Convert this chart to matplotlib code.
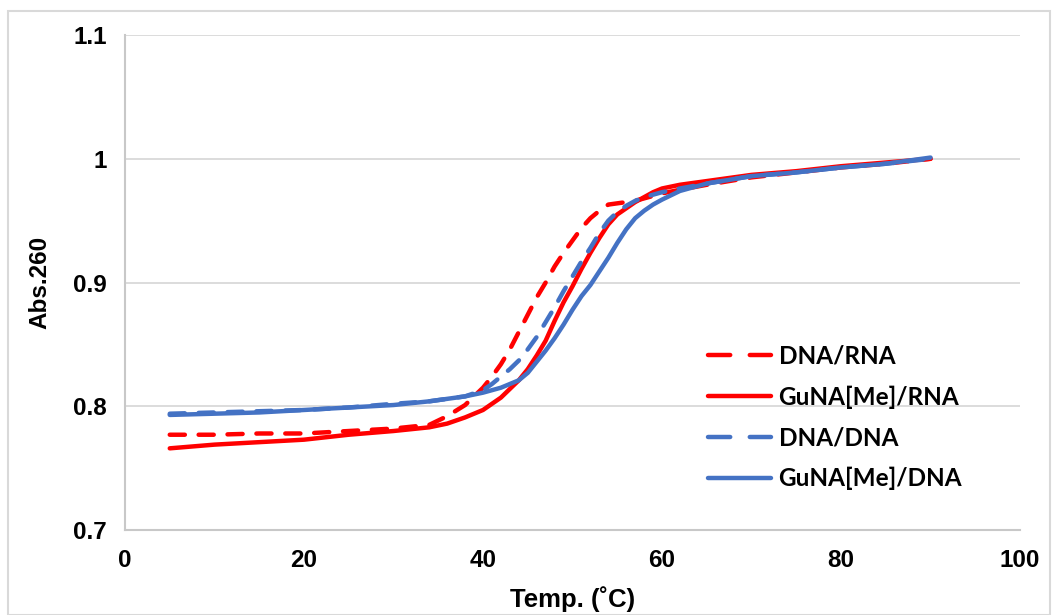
import matplotlib
matplotlib.use("Agg")
import matplotlib.pyplot as plt
from matplotlib.patches import Rectangle

# melting curves
temp = [5, 10, 15, 20, 25, 30, 34, 36, 38, 40, 41, 42, 43, 44, 45, 46, 47, 48, 49,
        50, 51, 52, 53, 54, 55, 56, 57, 58, 59, 60, 62, 65, 70, 75, 80, 85, 90]

dna_rna = [0.777, 0.777, 0.778, 0.778, 0.780, 0.782, 0.785, 0.792, 0.801, 0.815,
           0.824, 0.834, 0.846, 0.860, 0.874, 0.888, 0.900, 0.913, 0.924, 0.934,
           0.944, 0.952, 0.958, 0.963, 0.964, 0.965, 0.966, 0.968, 0.970, 0.972,
           0.975, 0.979, 0.985, 0.989, 0.993, 0.996, 1.000]
guna_rna = [0.766, 0.769, 0.771, 0.773, 0.777, 0.780, 0.783, 0.786, 0.791, 0.797,
            0.802, 0.807, 0.814, 0.821, 0.830, 0.841, 0.853, 0.869, 0.884, 0.897,
            0.911, 0.924, 0.936, 0.947, 0.955, 0.960, 0.965, 0.969, 0.973, 0.976,
            0.979, 0.982, 0.987, 0.990, 0.994, 0.997, 1.000]
dna_dna = [0.794, 0.795, 0.796, 0.797, 0.799, 0.802, 0.804, 0.806, 0.808, 0.813,
           0.818, 0.824, 0.830, 0.837, 0.846, 0.856, 0.868, 0.880, 0.893, 0.905,
           0.917, 0.928, 0.940, 0.950, 0.957, 0.962, 0.966, 0.969, 0.971, 0.973,
           0.976, 0.980, 0.986, 0.989, 0.993, 0.996, 1.000]
guna_dna = [0.793, 0.794, 0.795, 0.797, 0.799, 0.801, 0.804, 0.806, 0.808, 0.811,
            0.813, 0.815, 0.818, 0.821, 0.827, 0.836, 0.845, 0.855, 0.866, 0.878,
            0.889, 0.898, 0.909, 0.920, 0.932, 0.943, 0.952, 0.958, 0.963, 0.967,
            0.974, 0.980, 0.986, 0.989, 0.993, 0.996, 1.001]

series = [
    ("DNA/RNA", dna_rna, "#FF0000", "dash"),
    ("GuNA[Me]/RNA", guna_rna, "#FF0000", "solid"),
    ("DNA/DNA", dna_dna, "#4472C4", "dash"),
    ("GuNA[Me]/DNA", guna_dna, "#4472C4", "solid"),
]

xticks = [0, 20, 40, 60, 80, 100]
yticks = [0.7, 0.8, 0.9, 1.0, 1.1]
ytick_labels = ["0.7", "0.8", "0.9", "1", "1.1"]

fig = plt.figure(figsize=(10.53, 6.15), dpi=100)
ax = fig.add_axes([0.1187, 0.1382, 0.85, 0.8048])

lw = 3.2
for name, vals, col, style in series:
    if style == "dash":
        ax.plot(temp, vals, color=col, lw=lw, linestyle=(0, (3.4, 3.1)),
                dash_capstyle="round", solid_capstyle="round", label=name, zorder=3)
    else:
        ax.plot(temp, vals, color=col, lw=lw, solid_capstyle="round",
                label=name, zorder=3)

ax.set_xlim(0, 100)
ax.set_ylim(0.7, 1.1)
ax.set_xticks(xticks)
ax.set_yticks(yticks)
ax.set_yticklabels(ytick_labels)
ax.grid(axis="y", color="#d9d9d9", lw=1.3, zorder=0)
ax.tick_params(axis="x", length=0, pad=14)
ax.tick_params(axis="y", length=0, pad=13)
for lab in ax.get_xticklabels() + ax.get_yticklabels():
    lab.set_fontfamily("Liberation Sans")
    lab.set_fontweight("bold")
    lab.set_fontsize(17.5)

for s in ["top", "right"]:
    ax.spines[s].set_visible(False)
for s in ["left", "bottom"]:
    ax.spines[s].set_color("#c8c8c8")
    ax.spines[s].set_linewidth(1.5)

ax.set_xlabel("Temp. (˚C)", fontfamily="Liberation Sans", fontweight="bold",
              fontsize=18.5, labelpad=10)
ax.set_ylabel("Abs.260", fontfamily="Liberation Sans", fontweight="bold",
              fontsize=17.5, labelpad=16)

leg = ax.legend(loc="upper left", bbox_to_anchor=(0.627, 0.418), frameon=False,
                handlelength=2.6, handletextpad=0.3, labelspacing=0.72,
                prop={"family": "Lato", "weight": "bold", "size": 17.5})
# two long dashes in the legend, like the original
for h, (_, _, _, style) in zip(leg.get_lines(), series):
    if style == "dash":
        h.set_linestyle((0, (5.0, 4.4)))

fig.patches.append(Rectangle((0.008, 0.0), 0.989, 0.982, transform=fig.transFigure,
                             fill=False, edgecolor="#d9d9d9", lw=1.5))

fig.savefig("out.png", dpi=100)
